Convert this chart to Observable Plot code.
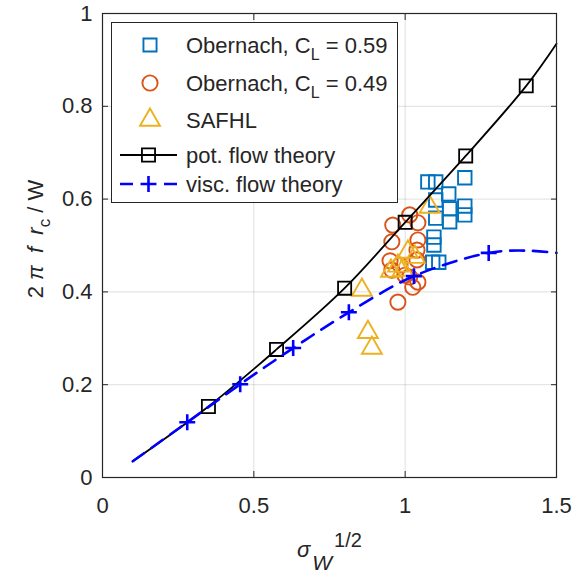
<!DOCTYPE html>
<html><head><meta charset="utf-8">
<script src="https://cdn.jsdelivr.net/npm/d3@7"></script>
<script src="https://cdn.jsdelivr.net/npm/@observablehq/plot@0.6"></script>
<style>body{margin:0;background:#fff;} svg{font-family:"Liberation Sans",Arial,sans-serif;}</style>
</head><body><div id="chart"></div>
<script>
// ---- data ----
const xTicks = [0, 0.5, 1, 1.5];
const yTicks = [0, 0.2, 0.4, 0.6, 0.8, 1];

const ober59X = [1.075, 1.101, 1.197, 1.144, 1.101, 1.147, 1.197, 1.197, 1.101, 1.147, 1.095, 1.095, 1.091, 1.111];
const ober59Y = [0.637, 0.637, 0.646, 0.611, 0.598, 0.579, 0.585, 0.566, 0.559, 0.551, 0.518, 0.501, 0.464, 0.464];

const ober49X = [0.959, 1.015, 1.042, 0.956, 1.042, 0.950, 1.039, 0.956, 1.039, 1.015, 1.042, 1.025, 0.976, 0.983, 0.999];
const ober49Y = [0.544, 0.566, 0.549, 0.508, 0.512, 0.467, 0.490, 0.447, 0.469, 0.432, 0.421, 0.410, 0.378, 0.458, 0.436];

const safhlX = [0.857, 0.877, 0.890, 0.953, 0.992, 1.009, 1.032, 0.976, 1.081];
const safhlY = [0.404, 0.313, 0.279, 0.445, 0.447, 0.486, 0.475, 0.456, 0.583];

const potLineX = [0.1, 0.35, 0.575, 0.8, 1.0, 1.2, 1.4, 1.5];
const potLineY = [0.035, 0.153, 0.276, 0.408, 0.550, 0.693, 0.844, 0.935];
const potMarkX = [0.35, 0.575, 0.8, 1.0, 1.2, 1.4];
const potMarkY = [0.153, 0.276, 0.408, 0.550, 0.693, 0.844];

const viscLineX = [0.1, 0.280, 0.455, 0.630, 0.814, 1.029, 1.276, 1.4, 1.5];
const viscLineY = [0.035, 0.119, 0.201, 0.279, 0.356, 0.434, 0.484, 0.489, 0.484];
const viscMarkX = [0.280, 0.455, 0.630, 0.814, 1.029, 1.276];
const viscMarkY = [0.119, 0.201, 0.279, 0.356, 0.434, 0.484];

const zip = (xs, ys) => xs.map((x, i) => ({x, y: ys[i]}));

const C_BLUE = "#0072BD", C_ORANGE = "#D95319", C_YELLOW = "#EDB120", C_VISC = "#0000FF", AX = "#262626";
const FONT = '"Liberation Sans", Arial, sans-serif';
const fmt = d => `${d}`;
const PLUS_R = 5.2;

const plot = Plot.plot({
  width: 586, height: 575,
  marginLeft: 102, marginRight: 30, marginTop: 13, marginBottom: 98,
  x: {domain: [0, 1.5]},
  y: {domain: [0, 1]},
  style: {fontFamily: FONT, fontSize: "22px", color: AX, background: "#fff", overflow: "visible"},
  marks: [
    Plot.gridX(xTicks, {stroke: "#000", strokeOpacity: 0.13, strokeWidth: 1}),
    Plot.gridY(yTicks, {stroke: "#000", strokeOpacity: 0.13, strokeWidth: 1}),
    Plot.dot(zip(ober59X, ober59Y), {x: "x", y: "y", symbol: "square", r: 7.6, stroke: C_BLUE, strokeWidth: 1.9}),
    Plot.dot(zip(ober49X, ober49Y), {x: "x", y: "y", symbol: "circle", r: 7.6, stroke: C_ORANGE, strokeWidth: 1.9}),
    Plot.dot(zip(safhlX, safhlY), {x: "x", y: "y", symbol: "triangle", r: 7.4, stroke: C_YELLOW, strokeWidth: 1.9}),
    Plot.line(zip(potLineX, potLineY), {x: "x", y: "y", stroke: "#000", strokeWidth: 1.8, curve: "catmull-rom"}),
    Plot.dot(zip(potMarkX, potMarkY), {x: "x", y: "y", symbol: "square", r: 7.4, stroke: "#000", strokeWidth: 1.8}),
    Plot.line(zip(viscLineX, viscLineY), {x: "x", y: "y", stroke: C_VISC, strokeWidth: 2.6, strokeDasharray: "14,9", curve: "catmull-rom"}),
    Plot.dot(zip(viscMarkX, viscMarkY), {x: "x", y: "y", symbol: "plus", r: PLUS_R, stroke: C_VISC, strokeWidth: 2.6}),
    Plot.frame({stroke: AX, strokeWidth: 1.2}),
    Plot.axisX(xTicks, {anchor: "bottom", tickSize: -6, tickFormat: () => "", label: null, stroke: AX}),
    Plot.axisX(xTicks, {anchor: "top", tickSize: -6, tickFormat: () => "", label: null, stroke: AX}),
    Plot.axisY(yTicks, {anchor: "left", tickSize: -6, tickFormat: () => "", label: null, stroke: AX}),
    Plot.axisY(yTicks, {anchor: "right", tickSize: -6, tickFormat: () => "", label: null, stroke: AX}),
    Plot.axisX(xTicks, {anchor: "bottom", tickSize: 0, tickPadding: 20, tickFormat: fmt, label: null, fill: AX, fontSize: 22}),
    Plot.axisY(yTicks, {anchor: "left", tickSize: 0, tickPadding: 10, tickFormat: fmt, label: null, fill: AX, fontSize: 22})
  ]
});
document.getElementById("chart").appendChild(plot);

// ---- axis labels and legend (layout) ----
const svg = d3.select(plot);

// x label: sigma_W^{1/2}
const xl = svg.append("text").attr("x", 297).attr("y", 557).attr("text-anchor", "start").attr("fill", AX)
  .style("font-size", "22px").style("font-family", FONT);
xl.append("tspan").text("σ").style("font-style", "italic");
xl.append("tspan").attr("dy", 13).attr("dx", 2).style("font-style", "italic").style("font-size", "21px").text("W");
xl.append("tspan").attr("dy", -23).attr("dx", 2).style("font-size", "20px").text("1/2");

// y label: 2 π f r_c / W
const yl = svg.append("text").attr("transform", "translate(43,239) rotate(-90)").attr("text-anchor", "middle")
  .attr("fill", AX).style("font-size", "22px").style("font-family", FONT);
yl.append("tspan").text("2 ");
yl.append("tspan").style("font-style", "italic").text("π  f  r");
yl.append("tspan").attr("dy", 7).style("font-size", "17px").text("c");
yl.append("tspan").attr("dy", -7).text(" / W");

// legend
const lg = svg.append("g").attr("text-anchor", "start");
lg.append("rect").attr("x", 111.5).attr("y", 22.5).attr("width", 286).attr("height", 180)
  .attr("fill", "#fff").attr("stroke", AX).attr("stroke-width", 1);
const rows = [45, 83, 120, 155, 184];
const sym = (type, r) => d3.symbol(type, Math.PI * r * r)();
const mk = (type, r, y, color, x = 150, sw = 1.9) =>
  lg.append("path").attr("d", sym(type, r)).attr("transform", `translate(${x},${y})`)
    .attr("fill", "none").attr("stroke", color).attr("stroke-width", sw);
mk(d3.symbolSquare, 7.4, rows[0], C_BLUE);
mk(d3.symbolCircle, 7.6, rows[1], C_ORANGE);
mk(d3.symbolTriangle, 7.4, rows[2], C_YELLOW);
lg.append("line").attr("x1", 120).attr("x2", 177).attr("y1", rows[3]).attr("y2", rows[3]).attr("stroke", "#000").attr("stroke-width", 1.8);
mk(d3.symbolSquare, 7.4, rows[3], "#000", 148.5, 1.8);
lg.append("line").attr("x1", 120).attr("x2", 177).attr("y1", rows[4]).attr("y2", rows[4])
  .attr("stroke", C_VISC).attr("stroke-width", 2.6).attr("stroke-dasharray", "13,31,13");
mk(d3.symbolPlus, PLUS_R, rows[4], C_VISC, 148.5, 2.6);

const legendText = (y, main, sub, rest) => {
  const t = lg.append("text").attr("x", 186).attr("y", y + 8).attr("text-anchor", "start").attr("fill", AX)
    .style("font-size", "22px").style("font-family", FONT);
  t.append("tspan").text(main);
  if (sub) {
    t.append("tspan").attr("dy", 7).style("font-size", "16px").text(sub);
    t.append("tspan").attr("dy", -7).text(" = " + rest);
  }
};
legendText(rows[0], "Obernach, C", "L", "0.59");
legendText(rows[1], "Obernach, C", "L", "0.49");
legendText(rows[2], "SAFHL");
legendText(rows[3], "pot. flow theory");
legendText(rows[4], "visc. flow theory");
</script>
</body></html>
